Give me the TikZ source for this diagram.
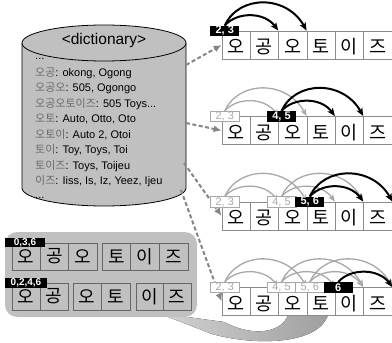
\documentclass[tikz,border=0pt]{standalone}
\usepackage{fontspec}
\setmainfont{Liberation Sans}
\newfontfamily\kr{Noto Sans CJK KR}
\usetikzlibrary{arrows.meta}
\definecolor{cylgray}{HTML}{C0C0C0}
\definecolor{cellline}{HTML}{8C8C8C}
\definecolor{arcgray}{HTML}{A8A8A8}
\definecolor{dashgray}{HTML}{858585}
\definecolor{krgray}{HTML}{6A6A6A}
\newcommand\kor[1]{{\kr\color{krgray}#1}}
\pgfdeclarelayer{under}
\pgfdeclarelayer{arcs}
\pgfsetlayers{under,arcs,main}
\begin{document}
\begin{tikzpicture}[x=1pt,y=-1pt,
  cell/.style={draw=cellline, line width=0.8pt, fill=white, minimum width=28.33pt, minimum height=28pt, inner sep=0pt, text height=17pt, text depth=0pt, font=\kr\fontsize{18.5}{18.5}\selectfont},
  bcell/.style={draw=gray!80!black, line width=0.7pt, minimum height=27pt, inner sep=0pt, font=\kr\fontsize{18}{18}\selectfont},
  lblk/.style={fill=black, text=white, font=\bfseries\fontsize{11}{11}\selectfont, minimum width=29pt, minimum height=10.5pt, inner sep=0pt},
  lgry/.style={fill=white, draw=arcgray, line width=0.6pt, text=arcgray, font=\fontsize{11}{11}\selectfont, minimum width=29pt, minimum height=10.5pt, inner sep=0pt},
  smlbl/.style={fill=black, text=white, font=\bfseries\fontsize{10}{10}\selectfont, minimum height=9.5pt, inner sep=0pt},
  blarc/.style={line width=2pt, -{Stealth[length=8pt,width=6.5pt,inset=2pt]}},
  grarc/.style={draw=arcgray, line width=1.3pt, -{Stealth[length=7pt,width=5.5pt,inset=1.5pt]}},
  dashc/.style={draw=dashgray, line width=2pt, dash pattern=on 4pt off 2.5pt, -{Latex[length=8pt,width=7pt]}},
  entry/.style={anchor=base west, inner sep=0pt, font=\fontsize{11}{11}\selectfont}
]
\useasboundingbox (0,0) rectangle (392,343);
\newcommand\shortarc[3]{\draw[#1] (#2.north) .. controls +(12,-14) and +(-14,-19) .. (#3);}
\newcommand\longarc[3]{\draw[#1] (#2.north) .. controls +(14,-31) and +(-20,-36) .. (#3);}

\begin{pgfonlayer}{under}
% cylinder
\fill[cylgray] (22,43) -- (22,188) arc[start angle=180,end angle=0,x radius=82,y radius=18] -- (186,43) -- cycle;
\draw[line width=0.8pt] (22,43) -- (22,188) arc[start angle=180,end angle=0,x radius=82,y radius=18] -- (186,43);
\draw[fill=cylgray, line width=0.8pt] (104,43) ellipse [x radius=82, y radius=18];
% big return arrow
\fill[left color=gray!35, right color=gray!75] (158,313) -- (224,322) .. controls (255,338) and (282,332) .. (288,315) -- (328,315) .. controls (318,345) and (255,346) .. (212,334) -- cycle;
% box
\node[fill=cylgray, rounded corners=12pt, minimum width=192pt, minimum height=85pt, inner sep=0pt] (box) at (101,274.5) {};
% rows of cells
\foreach \r/\y in {1/31,2/116.5,3/202,4/287.5} {
  \foreach \c/\k in {1/오,2/공,3/오,4/토,5/이,6/즈} {
    \node[cell] (r\r-\c) at ({222+(\c-0.5)*28.33}, \y+14) {\k};
  }
}
% box cells
\node[bcell, minimum width=28.4pt] (ba1) at (26.2,256.5) {오};
\node[bcell, minimum width=28.4pt] (ba2) at (54.6,256.5) {공};
\node[bcell, minimum width=28.4pt] (ba3) at (83.0,256.5) {오};
\node[bcell, minimum width=28.7pt] (ba4) at (116.3,256.5) {토};
\node[bcell, minimum width=28.7pt] (ba5) at (145.0,256.5) {이};
\node[bcell, minimum width=28.7pt] (ba6) at (173.7,256.5) {즈};
\node[bcell, minimum width=28pt] (bb1) at (26,296.5) {오};
\node[bcell, minimum width=28pt] (bb2) at (54,296.5) {공};
\node[bcell, minimum width=28.5pt] (bb3) at (87.25,296.5) {오};
\node[bcell, minimum width=28.5pt] (bb4) at (115.75,296.5) {토};
\node[bcell, minimum width=27.5pt] (bb5) at (149.75,296.5) {이};
\node[bcell, minimum width=27.5pt] (bb6) at (177.25,296.5) {즈};
\end{pgfonlayer}

% labels
\node[lblk] (a1) at (224.8,31) {2, 3};
\node[lgry] (g21) at (224.8,116.5) {2, 3};
\node[lblk] (a2) at (281.5,116.5) {4, 5};
\node[lgry] (g31) at (224.8,202) {2, 3};
\node[lgry] (g32) at (281.5,202) {4, 5};
\node[lblk] (a3) at (309.8,202) {5, 6};
\node[lgry] (g41) at (224.8,287.5) {2, 3};
\node[lgry] (g42) at (281.5,287.5) {4, 5};
\node[lgry] (g43) at (309.8,287.5) {5, 6};
\node[lblk] (a4) at (338.2,287.5) {6};
\node[smlbl, minimum width=40pt] (la) at (25,242.5) {0,3,6};
\node[smlbl, minimum width=42pt] (lb) at (26,283) {0,2,4,6};

% dictionary text
\node[font=\fontsize{15.5}{15.5}\selectfont, inner sep=0pt] (title) at (104,40) {<dictionary>};
\node[entry] (e0) at (35,59) {...};
\node[entry] (e1) at (35,76) {\kor{오공}: okong, Ogong};
\node[entry] (e2) at (35,91.5) {\kor{오공오}: 505, Ogongo};
\node[entry] (e3) at (35,107) {\kor{오공오토이즈}: 505 Toys...};
\node[entry] (e4) at (35,122.5) {\kor{오토}: Auto, Otto, Oto};
\node[entry] (e5) at (35,138) {\kor{오토이}: Auto 2, Otoi};
\node[entry] (e6) at (35,153.5) {\kor{토이}: Toy, Toys, Toi};
\node[entry] (e7) at (35,169) {\kor{토이즈}: Toys, Toijeu};
\node[entry] (e8) at (35,184.5) {\kor{이즈}: Iiss, Is, Iz, Yeez, Ijeu};
\node[entry] (e9) at (35,198) {...};
\coordinate (d1) at (186,65);
\coordinate (d2) at (186,123);
\coordinate (d3) at (184,163);
\coordinate (d4) at (181,190);

\begin{pgfonlayer}{arcs}
\draw[dashc] (d1) -- (r1-1.west);
\draw[dashc] (d2) -- (r2-1.west);
\draw[dashc] (d3) -- (r3-1.west);
\draw[dashc] (d4) -- (r4-1.west);
% row 1
\shortarc{blarc}{a1}{r1-3.north west}
\longarc{blarc}{a1}{r1-4.north west}
% row 2
\shortarc{grarc}{g21}{r2-3.north west}
\longarc{grarc}{g21}{r2-4.north west}
\shortarc{blarc}{a2}{r2-5.north west}
\longarc{blarc}{a2}{r2-6.north west}
% row 3
\shortarc{grarc}{g31}{r3-3.north west}
\longarc{grarc}{g31}{r3-4.north west}
\shortarc{grarc}{g32}{r3-5.north west}
\longarc{grarc}{g32}{r3-6.north west}
\shortarc{blarc}{a3}{r3-6.north west}
\longarc{blarc}{a3}{r3-6.north east}
% row 4
\shortarc{grarc}{g41}{r4-3.north west}
\longarc{grarc}{g41}{r4-4.north west}
\shortarc{grarc}{g42}{r4-5.north west}
\longarc{grarc}{g42}{r4-6.north west}
\shortarc{grarc}{g43}{r4-6.north west}
\longarc{grarc}{g43}{r4-6.north east}
\shortarc{blarc}{a4}{r4-6.north east}
\end{pgfonlayer}
\end{tikzpicture}
\end{document}
